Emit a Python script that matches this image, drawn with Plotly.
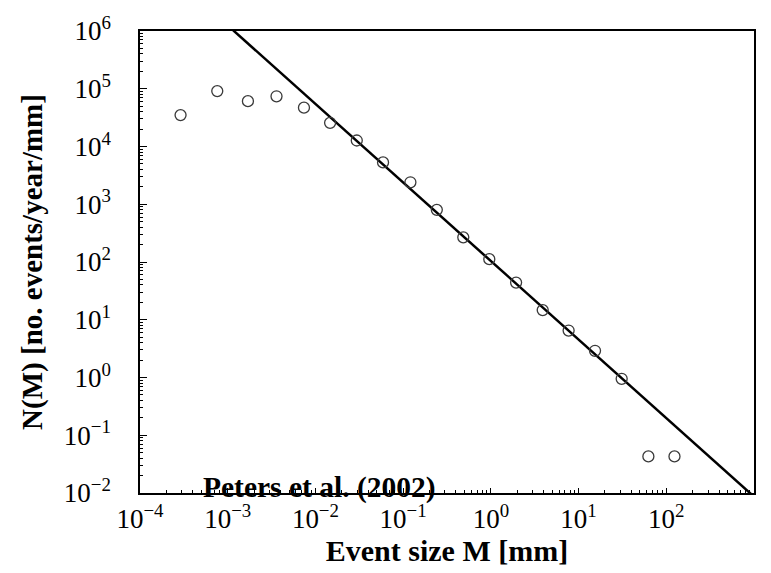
import numpy as np
import plotly.graph_objects as go

# Event-size distribution (Peters et al. 2002): binned event sizes M [mm]
event_size_mm = [2.9e-4, 7.6e-4, 1.7e-3, 3.6e-3, 7.4e-3, 1.47e-2, 2.96e-2, 5.9e-2,
                 0.121, 0.242, 0.485, 0.96, 1.94, 3.9, 7.7, 15.4, 31.0, 62.5, 124.0]
# Number density N(M) [no. events / year / mm]
event_density = [3.5e4, 9.1e4, 6.1e4, 7.4e4, 4.7e4, 2.57e4, 1.27e4, 5.3e3,
                 2.4e3, 800.0, 267.0, 112.0, 44.0, 14.7, 6.5, 2.9, 0.95, 0.043, 0.043]

# Power-law fit N(M) = A * M^(-b)
fit_prefactor = 104.0
fit_exponent = 1.36
fit_range_mm = [1e-4, 1e3]

# Decade tick labels
x_decades = [-4, -3, -2, -1, 0, 1, 2, 3]
y_decades = [-2, -1, 0, 1, 2, 3, 4, 5, 6]


def decade_label(e):
    exp_txt = str(e).replace("-", "\u2212")
    return "10<sup>" + exp_txt + "</sup>"


fit_x = np.logspace(np.log10(fit_range_mm[0]), np.log10(fit_range_mm[1]), 50)
fit_y = fit_prefactor * fit_x ** (-fit_exponent)

serif = "Liberation Serif, Times New Roman, serif"

fig = go.Figure()
fig.add_trace(go.Scatter(
    x=fit_x, y=fit_y, mode="lines",
    line=dict(color="black", width=2.5),
    hoverinfo="skip", showlegend=False,
))
fig.add_trace(go.Scatter(
    x=event_size_mm, y=event_density, mode="markers",
    marker=dict(symbol="circle-open", size=11, color="#3a3a3a",
                line=dict(width=1.3, color="#3a3a3a")),
    showlegend=False,
))

axis_common = dict(
    type="log",
    showgrid=False, zeroline=False,
    showline=True, linecolor="black", linewidth=1.5, mirror=True,
    ticks="inside", tickcolor="black", tickwidth=1,
    tickmode="array",
    tickfont=dict(family=serif, size=27, color="black"),
    minor=dict(ticks="inside", ticklen=3, tickcolor="black", tickwidth=1,
               dtick="D1", showgrid=False),
)

fig.update_xaxes(
    **axis_common,
    range=[-4, 3],
    ticklen=5,
    tickvals=[10.0 ** e for e in x_decades],
    ticktext=[decade_label(e) for e in x_decades],
    ticklabelstandoff=1,
    title=dict(text="<b>Event size M [mm]</b>",
               font=dict(family=serif, size=30, color="black"), standoff=6),
)
fig.update_yaxes(
    **axis_common,
    range=[-2, 6],
    ticklen=7,
    tickvals=[10.0 ** e for e in y_decades],
    ticktext=[decade_label(e) for e in y_decades],
    ticklabelstandoff=22,
    title=dict(text="<b>N(M) [no. events/year/mm]</b>",
               font=dict(family=serif, size=29, color="black"), standoff=13),
)

fig.add_annotation(
    text="<b>Peters et al. (2002)</b>",
    xref="x", yref="paper", x=np.log10(5.0e-4), y=0.012,
    xanchor="left", yanchor="middle", showarrow=False,
    font=dict(family=serif, size=29.5, color="black"),
)

fig.update_layout(
    width=771, height=573,
    margin=dict(l=140, r=17, t=25, b=80),
    paper_bgcolor="white", plot_bgcolor="white",
)

fig.write_html("out.html")
